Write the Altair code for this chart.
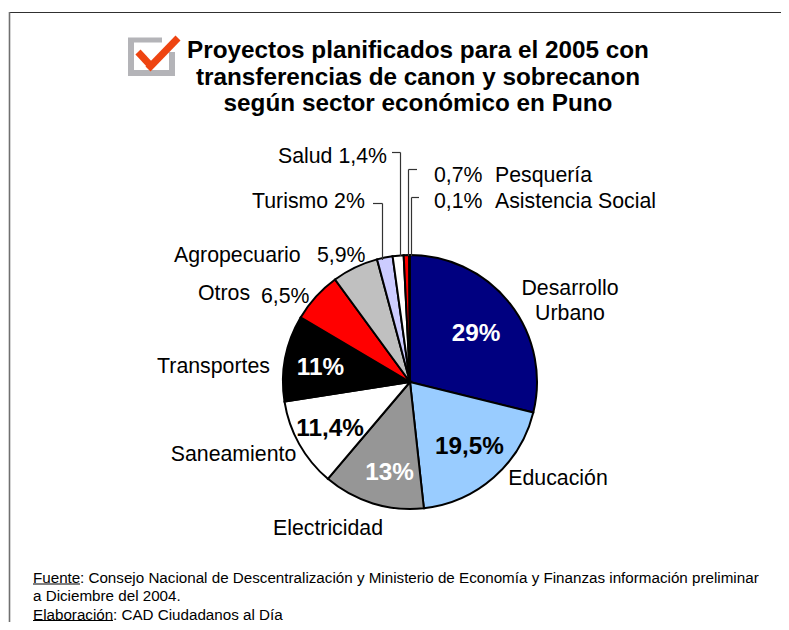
import altair as alt
import pandas as pd

sectors = ["Desarrollo Urbano", "Educación", "Electricidad", "Saneamiento", "Transportes", "Otros",
           "Agropecuario", "Turismo", "Salud", "Pesquería", "Asistencia Social"]
values = [29, 19.5, 13, 11.4, 11, 6.5, 5.9, 2, 1.4, 0.7, 0.1]
colors = ["#000080", "#99CCFF", "#969696", "#FFFFFF", "#000000", "#FF0000",
          "#C0C0C0", "#CCCCFF", "#FFFFFF", "#FF0000", "#000080"]
title_lines = ["Proyectos planificados para el 2005 con",
               "transferencias de canon y sobrecanon",
               "según sector económico en Puno"]
FONT = "Liberation Sans"
one = pd.DataFrame({"a": [0]})
M = 8
LS = 21.3
VS = 24.3
FS = 15.2
TS = 24.3


def txt(s, x, y, size=LS, align="left", color="#000000", bold=False):
    return alt.Chart(one).mark_text(text=s, font=FONT, fontSize=size, align=align, baseline="middle",
                                    color=color, fontWeight="bold" if bold else "normal").encode(
        x=alt.value(x - M), y=alt.value(y - M))


def seg(x1, y1, x2, y2, color="#333333", w=1.2, cap="butt"):
    return alt.Chart(one).mark_rule(color=color, strokeWidth=w, strokeCap=cap).encode(
        x=alt.value(x1 - M), y=alt.value(y1 - M), x2=alt.value(x2 - M), y2=alt.value(y2 - M))


df = pd.DataFrame({"sector": sectors, "value": values, "order": range(len(sectors))})
pie = alt.Chart(df).mark_arc(outerRadius=127, stroke="#000000", strokeWidth=2).encode(
    theta=alt.Theta("value:Q", stack=True),
    order=alt.Order("order:Q"),
    color=alt.Color("sector:N", scale=alt.Scale(domain=sectors, range=colors), legend=None),
    x=alt.value(410 - M), y=alt.value(382 - M))

layers = [
    # frame
    seg(9, 12.5, 789, 12.5, "#303030", 1.2), seg(9.5, 12, 9.5, 630, "#707070", 1.6),
    # check box
    seg(131, 38, 131, 75, "#B4B4B8", 6), seg(128, 73, 175, 73, "#B4B4B8", 6),
    seg(172, 52, 172, 76, "#B4B4B8", 6), seg(128, 40, 162, 40, "#B4B4B8", 5),
    seg(138, 52, 151, 66, "#EE4411", 7, "butt"), seg(148, 69, 178, 38, "#EE4411", 7, "butt"),
    pie,
]
layers += [txt(title_lines[0], 418, 51, TS, "center", bold=True),
           txt(title_lines[1], 418, 78, TS, "center", bold=True),
           txt(title_lines[2], 418, 104, TS, "center", bold=True)]
layers += [
    txt("Desarrollo", 570, 288.5, LS, "center"), txt("Urbano", 570, 313.5, LS, "center"),
    txt("Educación", 558, 478.5, LS, "center"),
    txt("Electricidad", 328, 528.5, LS, "center"),
    txt("Saneamiento", 233.5, 454.5, LS, "center"),
    txt("Transportes", 213.5, 366.5, LS, "center"),
    txt("Otros", 198, 293.5), txt("6,5%", 261, 296.5),
    txt("Agropecuario", 174, 255.5), txt("5,9%", 317, 255.5),
    txt("Turismo 2%", 252, 201.5),
    txt("Salud 1,4%", 278, 156.5),
    txt("0,7%", 434, 175.5), txt("Pesquería", 495, 175.5),
    txt("0,1%", 434, 201.5), txt("Asistencia Social", 495, 201.5),
    txt("29%", 476, 334, VS, "center", "#FFFFFF", True),
    txt("19,5%", 469.5, 447, VS, "center", "#000000", True),
    txt("13%", 389.5, 473, VS, "center", "#FFFFFF", True),
    txt("11,4%", 330, 429, VS, "center", "#000000", True),
    txt("11%", 320.5, 368, VS, "center", "#FFFFFF", True),
    # leader lines
    seg(373, 203.5, 382.5, 203.5), seg(382.5, 203.5, 382.5, 260),
    seg(392, 152.5, 400.5, 152.5), seg(400.5, 152.5, 400.5, 256),
    seg(408.5, 169.5, 417, 169.5), seg(408.5, 169.5, 408.5, 256),
    seg(411.5, 197.5, 419, 197.5), seg(411.5, 197.5, 411.5, 256),
    # footer
    txt("Fuente", 33, 578, FS), seg(33, 584, 80, 584, "#000000", 1),
    txt(": Consejo Nacional de Descentralización y Ministerio de Economía y Finanzas información preliminar", 80, 578, FS),
    txt("a Diciembre del 2004.", 33, 596, FS),
    txt("Elaboración", 33, 614.5, FS), seg(33, 620.5, 113, 620.5, "#000000", 1),
    txt(": CAD Ciudadanos al Día", 113, 614.5, FS),
]

chart = alt.layer(*layers).properties(width=773, height=614, padding=0,
                                      autosize=alt.AutoSizeParams(type="none")
                                      ).configure_view(stroke=None)
chart.save("out.html", embed_options={"renderer": "svg", "actions": False})
